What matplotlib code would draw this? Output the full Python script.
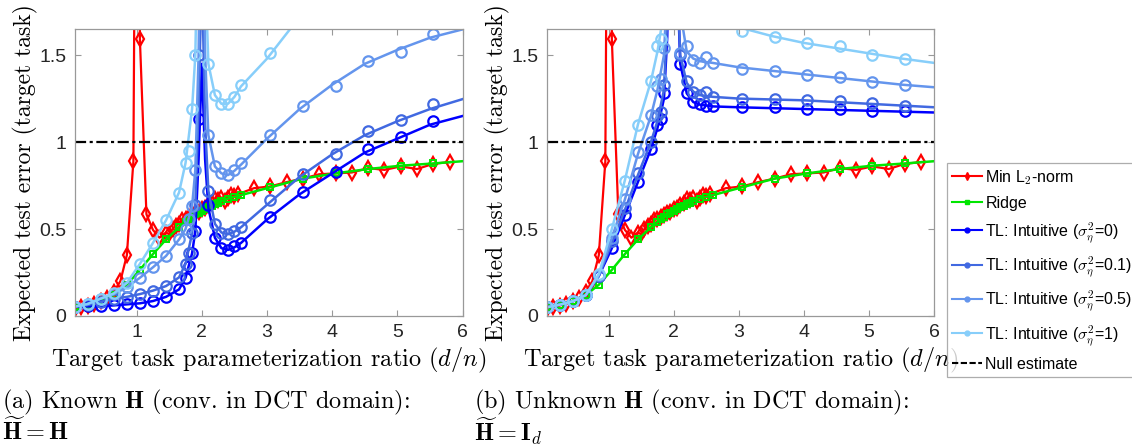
import matplotlib
matplotlib.use("Agg")
import matplotlib.pyplot as plt
from matplotlib.lines import Line2D

plt.rcParams["mathtext.fontset"] = "cm"
plt.rcParams["axes.unicode_minus"] = False

# ---- data ----
# empirical points of the TL curves
TL_X = [0.05, 0.25, 0.45, 0.65, 0.85, 1.05, 1.25, 1.45, 1.65, 1.75, 1.8, 1.85, 1.9, 1.95,
        2.1, 2.2, 2.3, 2.4, 2.5, 2.6, 3.05, 3.55, 4.05, 4.55, 5.05, 5.55]
# theory curves
TH_X = [0.05, 0.25, 0.45, 0.65, 0.85, 1.05, 1.25, 1.45, 1.65, 1.75, 1.85, 1.9, 1.95, 2.0,
        2.05, 2.1, 2.2, 2.3, 2.4, 2.5, 2.6, 3.0, 3.5, 4.0, 4.5, 5.0, 5.5, 6.0]

# (a) known H
A_EMP_0 = [0.054, 0.055, 0.057, 0.061, 0.067, 0.073, 0.086, 0.11, 0.153, 0.22, 0.29, 0.36, 0.49, 1.13,
           0.64, 0.45, 0.39, 0.38, 0.40, 0.42, 0.57, 0.715, 0.83, 0.96, 1.03, 1.12]
A_EMP_01 = [0.054, 0.063, 0.082, 0.10, 0.11, 0.126, 0.146, 0.172, 0.222, 0.30, 0.36, 0.475, 0.64, 1.5,
            0.72, 0.53, 0.48, 0.47, 0.49, 0.51, 0.667, 0.816, 0.93, 1.065, 1.126, 1.218]
A_EMP_05 = [0.054, 0.07, 0.10, 0.125, 0.165, 0.22, 0.28, 0.345, 0.44, 0.50, 0.56, 0.63, 0.84, 1.9,
            1.04, 0.86, 0.82, 0.81, 0.84, 0.88, 1.04, 1.21, 1.32, 1.467, 1.52, 1.62]
A_EMP_1 = [0.054, 0.069, 0.10, 0.13, 0.19, 0.30, 0.42, 0.55, 0.71, 0.88, 0.95, 1.19, 1.5, 3.0,
           1.45, 1.27, 1.22, 1.22, 1.26, 1.33, 1.51, 1.9, 2.2, 2.5, 2.7, 2.9]

A_TH_0 = [0.054, 0.055, 0.057, 0.061, 0.067, 0.073, 0.086, 0.11, 0.153, 0.22, 0.36, 0.49, 0.9, 1.45,
          0.9, 0.62, 0.45, 0.39, 0.38, 0.395, 0.42, 0.555, 0.70, 0.82, 0.94, 1.02, 1.10, 1.15]
A_TH_01 = [0.054, 0.063, 0.082, 0.10, 0.11, 0.126, 0.146, 0.172, 0.222, 0.30, 0.475, 0.64, 1.2, 2.0,
           1.1, 0.72, 0.53, 0.48, 0.47, 0.485, 0.51, 0.64, 0.80, 0.93, 1.04, 1.12, 1.19, 1.247]
A_TH_05 = [0.054, 0.07, 0.10, 0.125, 0.165, 0.22, 0.28, 0.345, 0.44, 0.50, 0.63, 0.84, 1.5, 3.0,
           1.5, 1.04, 0.86, 0.82, 0.81, 0.835, 0.87, 1.02, 1.19, 1.33, 1.45, 1.53, 1.60, 1.648]
A_TH_1 = [0.054, 0.069, 0.10, 0.13, 0.19, 0.30, 0.42, 0.55, 0.71, 0.88, 1.19, 1.5, 2.5, 4.0,
          2.0, 1.45, 1.27, 1.22, 1.22, 1.26, 1.32, 1.48, 1.72, 1.95, 2.1, 2.25, 2.4, 2.5]

# (b) unknown H
B_EMP_0 = [0.05, 0.065, 0.085, 0.12, 0.23, 0.39, 0.58, 0.77, 0.96, 1.10, 1.13, 1.28, 1.8, 3.0,
           1.45, 1.28, 1.23, 1.22, 1.21, 1.21, 1.20, 1.20, 1.19, 1.19, 1.18, 1.18]
B_EMP_01 = [0.05, 0.065, 0.085, 0.12, 0.23, 0.43, 0.62, 0.82, 1.0, 1.15, 1.17, 1.33, 2.0, 3.5,
            1.5, 1.35, 1.29, 1.27, 1.29, 1.26, 1.245, 1.245, 1.24, 1.235, 1.225, 1.21]
B_EMP_05 = [0.05, 0.065, 0.085, 0.12, 0.235, 0.45, 0.67, 0.94, 1.155, 1.32, 1.36, 1.54, 2.5, 4.0,
            1.51, 1.55, 1.47, 1.455, 1.49, 1.455, 1.42, 1.41, 1.385, 1.375, 1.345, 1.33]
B_EMP_1 = [0.05, 0.065, 0.085, 0.12, 0.24, 0.50, 0.776, 1.10, 1.35, 1.55, 1.59, 1.9, 3.0, 5.0,
           2.5, 2.2, 2.0, 1.9, 1.85, 1.8, 1.64, 1.605, 1.57, 1.55, 1.50, 1.48]

B_TH_0 = [0.05, 0.065, 0.085, 0.12, 0.23, 0.39, 0.58, 0.77, 0.96, 1.08, 1.25, 1.6, 2.5, 4.0,
          2.0, 1.45, 1.28, 1.23, 1.215, 1.21, 1.205, 1.2, 1.195, 1.19, 1.185, 1.18, 1.175, 1.17]
B_TH_01 = [0.05, 0.065, 0.085, 0.12, 0.23, 0.42, 0.61, 0.81, 1.0, 1.12, 1.3, 1.7, 2.6, 4.0,
           2.0, 1.5, 1.34, 1.29, 1.27, 1.265, 1.26, 1.25, 1.245, 1.24, 1.23, 1.22, 1.21, 1.2]
B_TH_05 = [0.05, 0.065, 0.085, 0.12, 0.235, 0.45, 0.67, 0.93, 1.15, 1.3, 1.5, 1.9, 3.0, 4.5,
           2.5, 1.75, 1.52, 1.48, 1.465, 1.46, 1.455, 1.43, 1.41, 1.39, 1.37, 1.35, 1.33, 1.315]
B_TH_1 = [0.05, 0.065, 0.085, 0.12, 0.24, 0.50, 0.78, 1.10, 1.35, 1.52, 1.75, 2.2, 3.5, 5.0,
          3.0, 2.3, 2.0, 1.88, 1.82, 1.79, 1.77, 1.66, 1.61, 1.57, 1.54, 1.51, 1.48, 1.455]

# min L2-norm (same in both panels)
RED_X = [0.05, 0.15, 0.25, 0.35, 0.45, 0.55, 0.65, 0.75, 0.85, 0.95, 1.0, 1.05, 1.15, 1.25, 1.35,
         1.45, 1.5, 1.55, 1.6, 1.65, 1.7, 1.75, 1.8, 1.85, 1.9, 1.95, 2.0, 2.05, 2.1, 2.15, 2.2,
         2.25, 2.3, 2.35, 2.4, 2.45, 2.5, 2.55, 2.8, 3.05, 3.3, 3.55, 3.8, 4.05, 4.3, 4.55, 4.8,
         5.05, 5.3, 5.55, 5.8]
RED_Y = [0.04, 0.05, 0.06, 0.07, 0.085, 0.105, 0.14, 0.2, 0.35, 0.89, 4.0, 1.59, 0.585, 0.495, 0.45,
         0.48, 0.47, 0.5, 0.52, 0.53, 0.55, 0.56, 0.57, 0.58, 0.595, 0.6, 0.615, 0.62, 0.64, 0.65, 0.67,
         0.665, 0.68, 0.66, 0.68, 0.695, 0.69, 0.7, 0.735, 0.745, 0.77, 0.79, 0.815, 0.82, 0.825, 0.85,
         0.84, 0.86, 0.845, 0.875, 0.885]

# ridge (same in both panels); last value is the line end at 6
RIDGE_X = [0.05, 0.25, 0.45, 0.65, 0.85, 1.05, 1.25, 1.45, 1.65, 1.75, 1.8, 1.85, 1.9, 1.95, 2.0,
           2.05, 2.1, 2.15, 2.2, 2.25, 2.3, 2.4, 2.5, 2.6, 3.05, 3.55, 4.05, 4.55, 5.05, 5.55, 6.0]
RIDGE_Y = [0.05, 0.065, 0.088, 0.12, 0.18, 0.265, 0.356, 0.44, 0.51, 0.54, 0.555, 0.57, 0.585, 0.595,
           0.605, 0.615, 0.625, 0.635, 0.645, 0.65, 0.66, 0.675, 0.685, 0.695, 0.74, 0.79, 0.82,
           0.845, 0.864, 0.877, 0.89]

NULL_Y = 1.0
SIGMAS = ["0", "0.1", "0.5", "1"]
TL_COLORS = ["#0000ff", "#4169e1", "#6495ed", "#87cefa"]

PANELS = [
    ([A_EMP_0, A_EMP_01, A_EMP_05, A_EMP_1], [A_TH_0, A_TH_01, A_TH_05, A_TH_1],
     r"(a) Known $\mathbf{H}$ (conv. in DCT domain):", r"$\widetilde{\mathbf{H}}=\mathbf{H}$"),
    ([B_EMP_0, B_EMP_01, B_EMP_05, B_EMP_1], [B_TH_0, B_TH_01, B_TH_05, B_TH_1],
     r"(b) Unknown $\mathbf{H}$ (conv. in DCT domain):", r"$\widetilde{\mathbf{H}}=\mathbf{I}_d$"),
]

W, H = 1132, 447
fig = plt.figure(figsize=(W / 100, H / 100), dpi=100)

SERIF = ["cmr10", "DejaVu Serif"]
axes_px = [(74.7, 462.7), (546.7, 934.3)]
top_px, bot_px = 29, 316

for (emps, ths, cap1, cap2), (xl, xr) in zip(PANELS, axes_px):
    ax = fig.add_axes([xl / W, 1 - bot_px / H, (xr - xl) / W, (bot_px - top_px) / H])

    ax.plot(RED_X, RED_Y, color="#ff0000", lw=1.6, marker="d", ms=7.5, mfc="none",
            mec="#ff0000", mew=1.6)
    ax.plot(RIDGE_X, RIDGE_Y, color="#00e600", lw=1.8, marker="s", ms=5, mfc="none",
            mec="#00e600", mew=1.4, markevery=slice(0, len(RIDGE_X) - 1))
    for emp, th, c in zip(emps, ths, TL_COLORS):
        ax.plot(TH_X, th, color=c, lw=1.8)
        ax.plot(TL_X, emp, ls="none", marker="o", ms=7.5, mfc="none", mec=c, mew=1.6)
    ax.axhline(NULL_Y, color="black", lw=1.6, dashes=(5, 1.6, 1.4, 1.6))

    ax.set_xlim(0.05, 6)
    ax.set_ylim(0, 1.65)
    ax.set_xticks([1, 2, 3, 4, 5, 6])
    ax.set_yticks([0, 0.5, 1, 1.5])
    ax.set_yticklabels(["0", "0.5", "1", "1.5"])
    ax.tick_params(direction="in", top=True, right=True, length=4, width=0.8,
                   colors="#999999", labelcolor="#262626", labelsize=14, pad=6)
    for t in ax.get_xticklabels() + ax.get_yticklabels():
        t.set_fontfamily("Liberation Sans")
    for s in ax.spines.values():
        s.set_color("#999999")
        s.set_linewidth(0.9)

    ax.set_ylabel("Expected test error (target task)", fontfamily=SERIF, fontsize=17, labelpad=1)
    ax.set_xlabel(r"Target task parameterization ratio $(d/n)$", fontfamily=SERIF,
                  fontsize=17.5, labelpad=3)

    cx = (xl - 73) / W
    fig.text(cx, 1 - 402 / H, cap1, fontfamily=SERIF, fontsize=17.5, va="center", ha="left")
    fig.text(cx, 1 - 431 / H, cap2, fontfamily=SERIF, fontsize=17.5, va="center", ha="left")

handles = [
    Line2D([], [], color="#ff0000", lw=1.5, marker="d", ms=4),
    Line2D([], [], color="#00e600", lw=1.5, marker="s", ms=3),
]
labels = [r"Min L$_2$-norm", "Ridge"]
for s, c in zip(SIGMAS, TL_COLORS):
    handles.append(Line2D([], [], color=c, lw=1.5, marker="o", ms=3.5))
    labels.append(r"TL: Intuitive ($\sigma_\eta^2$=" + s + ")")
handles.append(Line2D([], [], color="black", lw=1.5, ls="--", dashes=(3, 1.2)))
labels.append("Null estimate")

leg = fig.legend(handles, labels, loc="upper left", bbox_to_anchor=(947 / W, 1 - 163 / H),
                 borderaxespad=0, frameon=True, fancybox=False,
                 handlelength=1.9, handletextpad=0.2, labelspacing=0.58, borderpad=0.3,
                 prop={"family": "Liberation Sans", "size": 11.5})
leg.get_frame().set_edgecolor("#999999")
leg.get_frame().set_linewidth(0.9)

fig.savefig("out.png", dpi=100)
